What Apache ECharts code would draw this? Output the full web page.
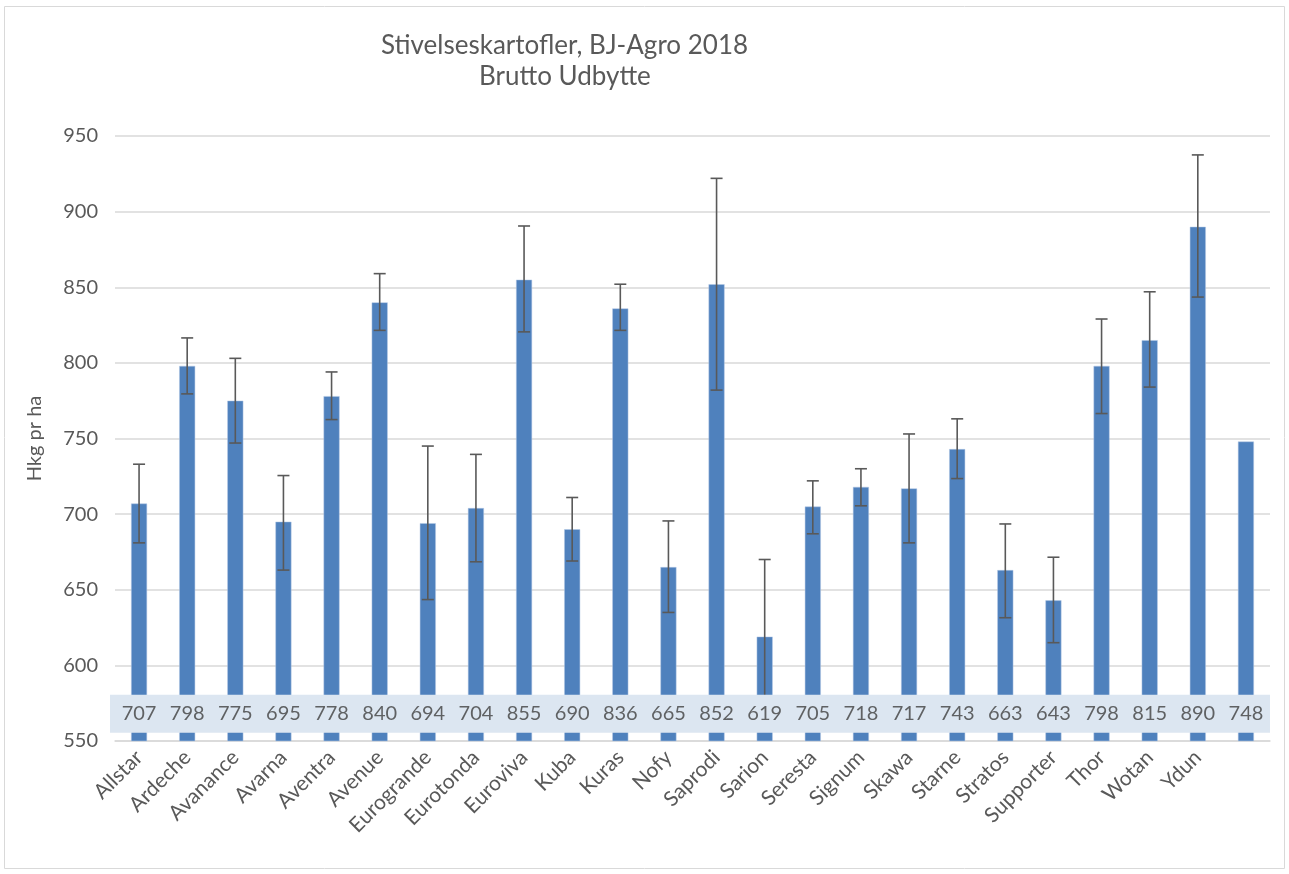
<!DOCTYPE html>
<html>
<head>
<meta charset="utf-8">
<script src="https://cdn.jsdelivr.net/npm/echarts@6/dist/echarts.min.js"></script>
<style>
  html, body { margin: 0; padding: 0; background: #fff; }
  #chart { width: 1289px; height: 874px; }
</style>
</head>
<body>
<div id="chart"></div>
<script>
// sorter (last bar has no name in the original)
const varieties = ['Allstar', 'Ardeche', 'Avanance', 'Avarna', 'Aventra', 'Avenue', 'Eurogrande',
  'Eurotonda', 'Euroviva', 'Kuba', 'Kuras', 'Nofy', 'Saprodi', 'Sarion', 'Seresta', 'Signum',
  'Skawa', 'Starne', 'Stratos', 'Supporter', 'Thor', 'Wotan', 'Ydun', ''];

// brutto udbytte, hkg pr ha
const yieldValues = [707, 798, 775, 695, 778, 840, 694, 704, 855, 690, 836, 665, 852, 619,
  705, 718, 717, 743, 663, 643, 798, 815, 890, 748];

// error bar ends, null = no error bar
const errHigh = [733, 816.5, 803, 725.5, 794, 859, 745, 739.5, 890.5, 711, 852, 695.5, 922, 670,
  722, 730, 753, 763, 693.5, 671.5, 829, 847, 937.5, null];
const errLow = [681, 779.5, 747, 663, 762.5, 821.5, 643.5, 668.5, 820.5, 669, 821.5, 635, 782, 568,
  687, 705.5, 681, 723.5, 631.5, 615, 766.5, 784, 843.5, null];

const yTicks = { min: 550, max: 950, step: 50 };

const txt = '#595959';
const font = 'Lato, "Open Sans", sans-serif';

const chart = echarts.init(document.getElementById('chart'));

const errData = [];
varieties.forEach((v, i) => {
  if (errHigh[i] != null) errData.push([i, errLow[i], errHigh[i]]);
});

chart.setOption({
  animation: false,
  textStyle: { fontFamily: font },
  graphic: [{
    type: 'rect',
    shape: { x: 4.5, y: 6.5, width: 1280, height: 862 },
    style: { fill: 'none', stroke: '#d9d9d9', lineWidth: 1 },
    silent: true
  }],
  title: [
    {
      text: 'Stivelseskartofler, BJ-Agro 2018',
      left: 376, top: 28,
      textStyle: { fontSize: 26, fontWeight: 'normal', color: txt, fontFamily: font }
    },
    {
      text: 'Brutto Udbytte',
      left: 474, top: 59,
      textStyle: { fontSize: 26, fontWeight: 'normal', color: txt, fontFamily: font }
    }
  ],
  grid: { left: 115, right: 19, top: 136, bottom: 133, containLabel: false },
  xAxis: {
    type: 'category',
    data: varieties,
    axisTick: { show: false },
    axisLine: { lineStyle: { color: '#d9d9d9', width: 1.5 } },
    axisLabel: { interval: 0, rotate: 45, fontSize: 21, color: txt, margin: 13 }
  },
  yAxis: {
    type: 'value',
    min: yTicks.min,
    max: yTicks.max,
    interval: yTicks.step,
    name: 'Hkg pr ha',
    nameLocation: 'middle',
    nameGap: 70,
    nameTextStyle: { fontSize: 20, color: txt },
    axisLine: { show: false },
    axisTick: { show: false },
    axisLabel: { fontSize: 20, color: txt, margin: 17 },
    splitLine: { lineStyle: { color: '#d9d9d9', width: 1.5 } }
  },
  series: [
    {
      name: 'Udbytte',
      type: 'bar',
      data: yieldValues,
      barWidth: 16,
      z: 2,
      itemStyle: { color: '#4f81bd', borderColor: '#b4c9e4', borderWidth: 0.5 }
    },
    {
      name: 'Fejl',
      type: 'custom',
      z: 3,
      data: errData,
      renderItem: (params, api) => {
        const lo = api.coord([api.value(0), api.value(1)]);
        const hi = api.coord([api.value(0), api.value(2)]);
        const cap = 6;
        const style = { stroke: '#595959', lineWidth: 1.6 };
        return {
          type: 'group',
          children: [
            { type: 'line', shape: { x1: lo[0], y1: hi[1], x2: lo[0], y2: lo[1] }, style },
            { type: 'line', shape: { x1: lo[0] - cap, y1: hi[1], x2: lo[0] + cap, y2: hi[1] }, style },
            { type: 'line', shape: { x1: lo[0] - cap, y1: lo[1], x2: lo[0] + cap, y2: lo[1] }, style }
          ]
        };
      }
    },
    {
      // the light band behind the value labels
      name: 'band',
      type: 'custom',
      z: 5,
      silent: true,
      data: [[555.5, 580.5]],
      renderItem: (params, api) => {
        const cs = params.coordSys;
        const top = api.coord([0, api.value(1)])[1];
        const bot = api.coord([0, api.value(0)])[1];
        return {
          type: 'rect',
          shape: { x: cs.x - 5, y: top, width: cs.width + 5, height: bot - top },
          style: { fill: '#dce6f1' }
        };
      }
    },
    {
      name: 'labels',
      type: 'scatter',
      z: 6,
      silent: true,
      symbolSize: 0,
      data: yieldValues.map((v, i) => [i, 568]),
      label: {
        show: true,
        position: 'inside',
        fontSize: 20,
        color: '#404040',
        formatter: (p) => String(yieldValues[p.dataIndex])
      }
    }
  ]
});
</script>
</body>
</html>
